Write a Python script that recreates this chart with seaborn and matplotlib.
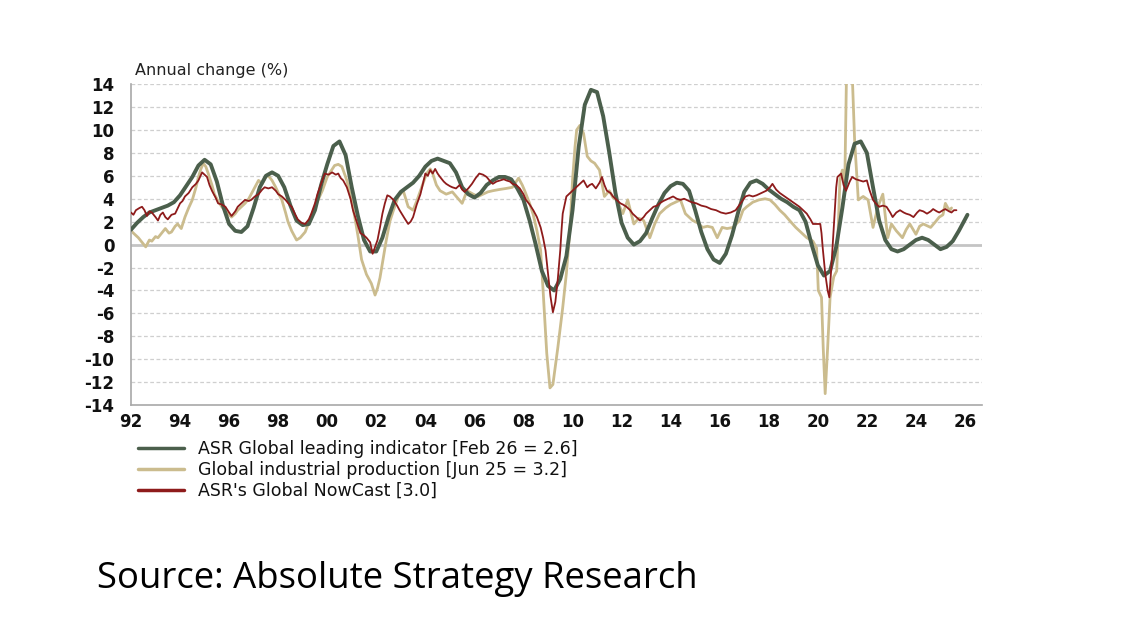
import numpy as np
import pandas as pd
import matplotlib
matplotlib.use("Agg")
import matplotlib.pyplot as plt
import seaborn as sns

# ---------------- data ----------------
lead_dates = [1992.0, 1992.25, 1992.5, 1992.75, 1993.0, 1993.25, 1993.5, 1993.75,
              1994.0, 1994.25, 1994.5, 1994.75, 1995.0, 1995.25, 1995.5, 1995.75,
              1996.0, 1996.25, 1996.5, 1996.75, 1997.0, 1997.25, 1997.5, 1997.75,
              1998.0, 1998.25, 1998.5, 1998.75, 1999.0, 1999.25, 1999.5, 1999.75,
              2000.0, 2000.25, 2000.5, 2000.75, 2001.0, 2001.25, 2001.5, 2001.75,
              2002.0, 2002.25, 2002.5, 2002.75, 2003.0, 2003.25, 2003.5, 2003.75,
              2004.0, 2004.25, 2004.5, 2004.75, 2005.0, 2005.25, 2005.5, 2005.75,
              2006.0, 2006.25, 2006.5, 2006.75, 2007.0, 2007.25, 2007.5, 2007.75,
              2008.0, 2008.25, 2008.5, 2008.75, 2009.0, 2009.25, 2009.5, 2009.75,
              2010.0, 2010.25, 2010.5, 2010.75, 2011.0, 2011.25, 2011.5, 2011.75,
              2012.0, 2012.25, 2012.5, 2012.75, 2013.0, 2013.25, 2013.5, 2013.75,
              2014.0, 2014.25, 2014.5, 2014.75, 2015.0, 2015.25, 2015.5, 2015.75,
              2016.0, 2016.25, 2016.5, 2016.75, 2017.0, 2017.25, 2017.5, 2017.75,
              2018.0, 2018.25, 2018.5, 2018.75, 2019.0, 2019.25, 2019.5, 2019.75,
              2020.0, 2020.25, 2020.5, 2020.75, 2021.0, 2021.25, 2021.5, 2021.75,
              2022.0, 2022.25, 2022.5, 2022.75, 2023.0, 2023.25, 2023.5, 2023.75,
              2024.0, 2024.25, 2024.5, 2024.75, 2025.0, 2025.25, 2025.5, 2025.75,
              2026.0, 2026.1]
lead_values = [1.3, 1.9, 2.4, 2.8, 3.0, 3.2, 3.4, 3.7,
               4.3, 5.1, 5.9, 6.9, 7.4, 7.0, 5.5, 3.4,
               1.8, 1.2, 1.1, 1.6, 3.2, 5.0, 6.0, 6.3,
               6.0, 5.0, 3.4, 2.1, 1.7, 1.8, 3.0, 5.2,
               7.0, 8.6, 9.0, 7.8, 5.0, 2.5, 0.4, -0.6,
               -0.6, 0.6, 2.4, 3.9, 4.6, 5.0, 5.4, 6.0,
               6.8, 7.3, 7.5, 7.3, 7.1, 6.3, 5.0, 4.4,
               4.1, 4.5, 5.2, 5.6, 5.9, 5.9, 5.7, 4.9,
               3.9, 2.1, 0.0, -2.3, -3.6, -4.0, -3.0, -1.0,
               3.0, 8.5, 12.2, 13.5, 13.3, 11.2, 8.0, 4.5,
               1.9, 0.6, 0.0, 0.3, 1.0, 2.3, 3.5, 4.5,
               5.1, 5.4, 5.3, 4.7, 3.0, 1.1, -0.4, -1.3,
               -1.6, -0.8, 0.8, 2.8, 4.6, 5.4, 5.6, 5.3,
               4.8, 4.4, 4.0, 3.7, 3.3, 3.0, 2.0, 0.0,
               -1.8, -2.7, -2.3, -0.2, 3.2, 7.0, 8.8, 9.0,
               8.0, 5.0, 2.1, 0.4, -0.4, -0.6, -0.4, 0.0,
               0.4, 0.6, 0.4, 0.0, -0.4, -0.2, 0.3, 1.2,
               2.2, 2.6]

ip_dates = [1992.0, 1992.15, 1992.3, 1992.45, 1992.6, 1992.75, 1992.85, 1993.0, 1993.1, 1993.25,
            1993.4, 1993.55, 1993.65, 1993.8, 1993.9, 1994.05, 1994.2, 1994.35, 1994.5, 1994.65,
            1994.75, 1994.85, 1994.95, 1995.05, 1995.15, 1995.3, 1995.4, 1995.55, 1995.7, 1995.9,
            1996.1, 1996.25, 1996.35, 1996.5, 1996.65, 1996.8, 1996.9, 1997.05, 1997.2, 1997.35,
            1997.5, 1997.6, 1997.75, 1997.9, 1998.05, 1998.15, 1998.3, 1998.4, 1998.55, 1998.75,
            1998.9, 1999.1, 1999.3, 1999.5, 1999.65, 1999.8, 2000.0, 2000.15, 2000.3, 2000.45,
            2000.6, 2000.8, 2001.05, 2001.25, 2001.4, 2001.6, 2001.8, 2001.95, 2002.05, 2002.15,
            2002.4, 2002.55, 2002.7, 2002.9, 2003.1, 2003.3, 2003.5, 2003.65, 2003.8, 2004.05,
            2004.2, 2004.3, 2004.45, 2004.6, 2004.85, 2005.1, 2005.3, 2005.5, 2005.7, 2005.95,
            2006.15, 2006.35, 2006.55, 2006.75, 2007.0, 2007.3, 2007.55, 2007.8, 2007.95, 2008.05,
            2008.25, 2008.4, 2008.55, 2008.7, 2008.8, 2008.95, 2009.08, 2009.2, 2009.4, 2009.6,
            2009.75, 2009.9, 2010.0, 2010.1, 2010.17, 2010.3, 2010.45, 2010.6, 2010.75, 2010.9,
            2011.1, 2011.3, 2011.5, 2011.65, 2011.8, 2012.05, 2012.25, 2012.5, 2012.7, 2012.9,
            2013.15, 2013.35, 2013.55, 2013.8, 2014.0, 2014.2, 2014.4, 2014.6, 2014.9, 2015.1,
            2015.3, 2015.5, 2015.7, 2015.9, 2016.1, 2016.3, 2016.55, 2016.8, 2016.95, 2017.1,
            2017.35, 2017.6, 2017.85, 2018.05, 2018.25, 2018.45, 2018.65, 2018.85, 2019.1, 2019.3,
            2019.55, 2019.8, 2019.95, 2020.02, 2020.15, 2020.22, 2020.3, 2020.4, 2020.5, 2020.65,
            2020.77, 2020.9, 2021.0, 2021.1, 2021.17, 2021.4, 2021.5, 2021.65, 2021.85, 2022.05,
            2022.25, 2022.45, 2022.65, 2022.85, 2023.0, 2023.2, 2023.45, 2023.6, 2023.75, 2024.0,
            2024.15, 2024.3, 2024.6, 2024.8, 2024.95, 2025.1, 2025.2, 2025.3, 2025.4, 2025.45]
ip_values = [1.2, 0.9, 0.6, 0.2, -0.2, 0.4, 0.3, 0.7, 0.6, 1.0,
             1.4, 1.0, 1.1, 1.6, 1.8, 1.4, 2.4, 3.2, 3.9, 5.0,
             5.9, 6.6, 7.1, 6.8, 6.2, 5.2, 4.4, 3.8, 3.3, 2.8,
             2.4, 2.7, 3.0, 3.3, 3.6, 4.0, 4.4, 5.0, 5.6, 5.3,
             5.9, 6.0, 5.6, 5.0, 4.3, 3.9, 2.8, 2.0, 1.2, 0.4,
             0.6, 1.1, 2.2, 3.3, 4.0, 4.7, 5.9, 6.4, 6.9, 7.0,
             6.8, 5.6, 3.3, 0.8, -1.3, -2.6, -3.4, -4.4, -3.8, -2.9,
             0.3, 2.0, 3.0, 4.2, 4.7, 3.3, 3.0, 3.8, 4.7, 6.2,
             6.6, 6.2, 5.2, 4.7, 4.4, 4.6, 4.1, 3.6, 4.7, 4.4,
             4.2, 4.4, 4.6, 4.7, 4.8, 4.9, 5.0, 5.8, 5.2, 4.7,
             3.6, 2.6, 1.2, -0.5, -4.0, -9.5, -12.5, -12.2, -9.0, -5.5,
             -2.5, 1.5, 5.6, 8.5, 10.0, 10.4, 9.7, 7.7, 7.3, 7.1,
             6.5, 4.2, 4.7, 4.1, 3.9, 2.7, 3.9, 1.8, 2.3, 2.1,
             0.6, 1.8, 2.7, 3.2, 3.5, 3.7, 3.9, 2.7, 2.1, 1.9,
             1.5, 1.6, 1.5, 0.6, 1.5, 1.4, 1.5, 2.1, 3.0, 3.3,
             3.7, 3.9, 4.0, 3.9, 3.5, 3.0, 2.6, 2.1, 1.5, 1.1,
             0.6, 0.3, -0.3, -4.0, -4.6, -9.0, -13.0, -9.0, -4.6, -2.8,
             -2.3, 5.6, 6.5, 5.5, 15.0, 15.0, 9.1, 3.9, 4.2, 3.9,
             1.5, 3.3, 4.4, 0.6, 1.8, 1.2, 0.6, 1.3, 1.8, 0.9,
             1.6, 1.8, 1.5, 2.0, 2.4, 2.6, 3.6, 3.2, 3.0, 3.2]

now_dates = [1992.0, 1992.1, 1992.2, 1992.35, 1992.45, 1992.55, 1992.65, 1992.75, 1992.85, 1993.0,
             1993.1, 1993.2, 1993.3, 1993.4, 1993.5, 1993.65, 1993.8, 1994.0, 1994.1, 1994.2,
             1994.35, 1994.5, 1994.65, 1994.75, 1994.9, 1995.0, 1995.1, 1995.2, 1995.3, 1995.45,
             1995.55, 1995.7, 1995.85, 1996.0, 1996.1, 1996.25, 1996.35, 1996.5, 1996.65, 1996.8,
             1996.9, 1997.05, 1997.2, 1997.35, 1997.45, 1997.6, 1997.75, 1997.9, 1998.0, 1998.15,
             1998.3, 1998.45, 1998.55, 1998.7, 1998.8, 1998.95, 1999.1, 1999.25, 1999.35, 1999.5,
             1999.6, 1999.75, 1999.9, 2000.05, 2000.2, 2000.35, 2000.45, 2000.55, 2000.65, 2000.8,
             2000.95, 2001.05, 2001.2, 2001.35, 2001.5, 2001.6, 2001.75, 2001.85, 2001.95, 2002.05,
             2002.15, 2002.25, 2002.35, 2002.45, 2002.55, 2002.7, 2002.85, 2002.95, 2003.15, 2003.3,
             2003.4, 2003.5, 2003.65, 2003.8, 2003.9, 2004.0, 2004.1, 2004.2, 2004.3, 2004.4,
             2004.5, 2004.6, 2004.75, 2004.85, 2005.0, 2005.1, 2005.25, 2005.4, 2005.5, 2005.6,
             2005.75, 2005.9, 2006.05, 2006.2, 2006.35, 2006.5, 2006.65, 2006.75, 2006.9, 2007.05,
             2007.2, 2007.3, 2007.45, 2007.55, 2007.7, 2007.85, 2008.0, 2008.1, 2008.25, 2008.4,
             2008.55, 2008.7, 2008.8, 2008.9, 2009.0, 2009.1, 2009.2, 2009.3, 2009.4, 2009.5,
             2009.55, 2009.6, 2009.75, 2009.85, 2010.0, 2010.15, 2010.3, 2010.45, 2010.6, 2010.7,
             2010.8, 2010.95, 2011.1, 2011.2, 2011.3, 2011.4, 2011.55, 2011.65, 2011.8, 2011.95,
             2012.05, 2012.2, 2012.35, 2012.45, 2012.6, 2012.75, 2012.9, 2013.0, 2013.15, 2013.3,
             2013.45, 2013.55, 2013.7, 2013.8, 2014.0, 2014.1, 2014.25, 2014.4, 2014.55, 2014.65,
             2014.85, 2015.05, 2015.25, 2015.45, 2015.65, 2015.85, 2016.05, 2016.25, 2016.45, 2016.65,
             2016.85, 2017.05, 2017.2, 2017.35, 2017.5, 2017.7, 2017.9, 2018.05, 2018.15, 2018.3,
             2018.45, 2018.65, 2018.85, 2019.05, 2019.25, 2019.4, 2019.55, 2019.7, 2019.8, 2019.95,
             2020.1, 2020.15, 2020.2, 2020.3, 2020.4, 2020.47, 2020.55, 2020.65, 2020.75, 2020.8,
             2020.95, 2021.05, 2021.15, 2021.3, 2021.4, 2021.55, 2021.7, 2021.85, 2022.0, 2022.1,
             2022.25, 2022.4, 2022.5, 2022.65, 2022.8, 2022.95, 2023.05, 2023.2, 2023.35, 2023.5,
             2023.6, 2023.75, 2023.9, 2024.05, 2024.15, 2024.3, 2024.45, 2024.6, 2024.7, 2024.85,
             2024.95, 2025.1, 2025.2, 2025.35, 2025.45, 2025.55, 2025.65]
now_values = [2.8, 2.6, 3.0, 3.2, 3.3, 3.0, 2.5, 2.9, 2.8, 2.4,
              2.1, 2.6, 2.8, 2.4, 2.2, 2.6, 2.7, 3.6, 3.8, 4.2,
              4.5, 5.0, 5.3, 5.6, 6.3, 6.1, 5.9, 5.2, 4.7, 4.1,
              3.6, 3.5, 3.3, 2.8, 2.5, 2.9, 3.3, 3.6, 3.9, 3.8,
              3.9, 4.2, 4.4, 4.8, 5.0, 4.9, 5.0, 4.7, 4.4, 4.2,
              3.9, 3.5, 3.3, 2.6, 2.2, 1.9, 1.8, 2.2, 2.7, 3.6,
              4.4, 5.3, 6.2, 6.1, 6.3, 6.1, 6.2, 5.8, 5.6, 5.0,
              4.0, 3.0, 2.0, 1.0, 0.8, 0.6, 0.2, -0.8, -0.2, 0.4,
              1.5, 2.7, 3.6, 4.3, 4.2, 3.9, 3.4, 3.0, 2.3, 1.8,
              2.0, 2.4, 3.5, 4.4, 5.3, 6.2, 6.0, 6.5, 6.2, 6.6,
              6.2, 5.9, 5.5, 5.3, 5.1, 5.0, 4.9, 5.2, 4.8, 4.6,
              4.9, 5.3, 5.8, 6.2, 6.1, 5.9, 5.5, 5.3, 5.5, 5.6,
              5.7, 5.6, 5.5, 5.3, 5.2, 4.9, 4.4, 3.9, 3.5, 3.0,
              2.4, 1.5, 0.6, -0.5, -2.5, -4.5, -5.9, -5.0, -3.0, -0.5,
              1.2, 2.7, 4.2, 4.4, 4.7, 5.0, 5.3, 5.6, 5.0, 5.2,
              5.3, 4.9, 5.4, 5.9, 5.2, 4.7, 4.5, 4.2, 3.9, 3.6,
              3.5, 3.3, 3.0, 2.7, 2.4, 2.1, 2.4, 2.7, 3.0, 3.3,
              3.4, 3.6, 3.8, 3.9, 4.1, 4.2, 4.0, 3.9, 4.0, 3.9,
              3.7, 3.6, 3.4, 3.3, 3.1, 3.0, 2.8, 2.7, 2.8, 3.0,
              3.6, 4.2, 4.3, 4.2, 4.3, 4.5, 4.7, 5.0, 5.3, 4.8,
              4.5, 4.2, 3.9, 3.6, 3.3, 3.0, 2.7, 2.2, 1.8, 1.8,
              1.8, 1.0, -0.3, -2.5, -4.0, -4.6, -2.0, 1.5, 5.0, 5.9,
              6.2, 5.2, 4.7, 5.5, 5.9, 5.7, 5.6, 5.5, 5.6, 4.8,
              3.9, 3.5, 3.3, 3.4, 3.3, 2.8, 2.4, 2.8, 3.0, 2.8,
              2.7, 2.6, 2.4, 2.8, 3.0, 2.9, 2.7, 2.9, 3.1, 2.9,
              2.8, 3.0, 3.1, 2.9, 2.8, 3.0, 3.0]

series_names = ["ASR Global leading indicator [Feb 26 = 2.6]",
                "Global industrial production [Jun 25 = 3.2]",
                "ASR's Global NowCast [3.0]"]
x_ticks = [1992, 1994, 1996, 1998, 2000, 2002, 2004, 2006, 2008, 2010, 2012, 2014,
           2016, 2018, 2020, 2022, 2024, 2026]
x_tick_labels = ["92", "94", "96", "98", "00", "02", "04", "06", "08", "10", "12", "14",
                 "16", "18", "20", "22", "24", "26"]
y_ticks = list(range(-14, 15, 2))

# ---------------- plot ----------------
sns.set_style("white")
plt.rcParams['font.family'] = ['DejaVu Sans']

fig = plt.figure(figsize=(11.41, 6.42), dpi=100)
ax = fig.add_axes([0.1148, 0.369, 0.746, 0.500])

c_lead = "#4b5f4c"
c_ip = "#cbbc8e"
c_now = "#8e1b1b"

df_lead = pd.DataFrame({"date": lead_dates, "value": lead_values})
df_ip = pd.DataFrame({"date": ip_dates, "value": ip_values})
df_now = pd.DataFrame({"date": now_dates, "value": now_values})

# grid
for yv in y_ticks:
    if yv == 0:
        ax.axhline(0, color="#c4c4c4", lw=2.0, zorder=1)
    elif yv != -14:
        ax.axhline(yv, color="#cfcfcf", lw=0.9, ls=(0, (3, 2)), zorder=1)

sns.lineplot(data=df_ip, x="date", y="value", ax=ax, color=c_ip, lw=2.0,
             estimator=None, zorder=2, label=series_names[1])
sns.lineplot(data=df_lead, x="date", y="value", ax=ax, color=c_lead, lw=2.8,
             estimator=None, zorder=3, label=series_names[0])
sns.lineplot(data=df_now, x="date", y="value", ax=ax, color=c_now, lw=1.3,
             estimator=None, zorder=4, label=series_names[2])

ax.set_xlim(1992, 2026.7)
ax.set_ylim(-14, 14)
ax.set_xticks(x_ticks)
ax.set_xticklabels(x_tick_labels)
ax.set_yticks(y_ticks)
ax.set_yticklabels([str(v) for v in y_ticks])
ax.set_xlabel("")
ax.set_ylabel("")

for s in ["top", "right"]:
    ax.spines[s].set_visible(False)
for s in ["left", "bottom"]:
    ax.spines[s].set_color("#a8a8a8")
    ax.spines[s].set_linewidth(1.2)

ax.tick_params(axis="x", which="both", length=4, width=1, color="#a8a8a8",
               direction="in", labelsize=12, pad=6)
ax.tick_params(axis="y", which="both", length=0, labelsize=12, pad=12)
for lab in ax.get_xticklabels() + ax.get_yticklabels():
    lab.set_fontweight("bold")
    lab.set_color("#111111")

ax.text(0.005, 1.018, "Annual change (%)", transform=ax.transAxes, fontsize=11.5,
        color="#222222", ha="left", va="bottom")

# legend in desired order
handles, labels = ax.get_legend_handles_labels()
order = [labels.index(n) for n in series_names]
leg = ax.legend([handles[i] for i in order], [labels[i] for i in order],
                loc="upper left", bbox_to_anchor=(0.0, -0.088), frameon=False,
                fontsize=12.5, handlelength=2.65, handletextpad=0.8,
                labelspacing=0.17, borderaxespad=0.0)
for t in leg.get_texts():
    t.set_color("#111111")
for h in leg.get_lines():
    h.set_linewidth(2.5)

fig.text(0.085, 0.0985, "Source: Absolute Strategy Research", fontsize=26.3,
         family="Open Sans", color="black", ha="left", va="center")

fig.savefig("out.png", dpi=100, facecolor="white")
